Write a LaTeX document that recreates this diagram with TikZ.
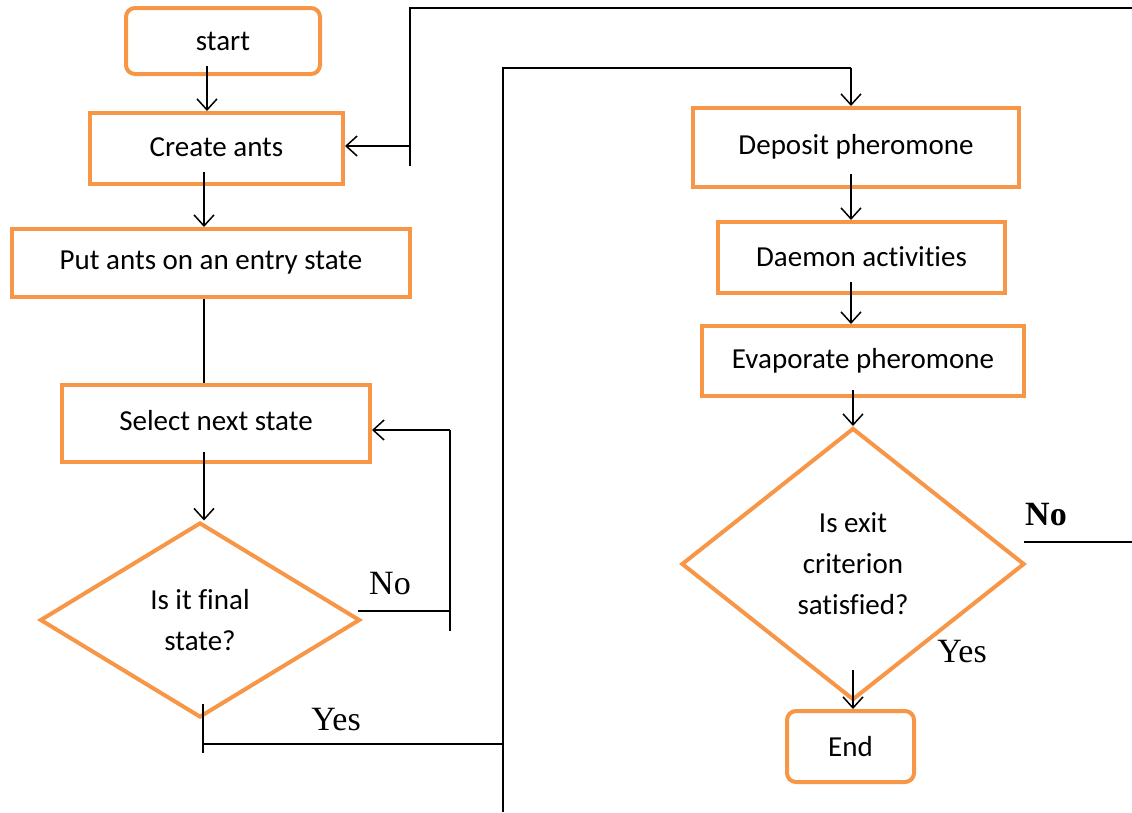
\documentclass[tikz,border=0pt]{standalone}
\usepackage{fontspec}
\setmainfont[Ligatures=NoCommon]{Carlito}
\newfontfamily\timesfont{Liberation Serif}
\usetikzlibrary{shapes.geometric,arrows.meta}
\definecolor{boxorange}{HTML}{F79646}
\begin{document}
\begin{tikzpicture}[x=1pt,y=-1pt,
  box/.style={draw=boxorange,line width=4pt,minimum width=#1,inner sep=0pt,font=\fontsize{29}{34}\selectfont},
  rbox/.style={box=#1,rounded corners=9pt},
  dec/.style={draw=boxorange,line width=4pt,diamond,inner sep=0pt,align=center,font=\fontsize{29}{41}\selectfont},
  conn/.style={line width=1.5pt,black},
  arr/.style={conn,-{Straight Barb[length=11pt,width=20pt]}},
  lab/.style={font=\timesfont\fontsize{34}{36}\selectfont,inner sep=0pt}]
\useasboundingbox (0,0) rectangle (1132,812);
% nodes
\node[rbox=194pt,minimum height=66pt] (start) at (223,41) {start};
\node[box=253pt,minimum height=71pt] (create) at (216.5,148.5) {\raisebox{2pt}{Create ants}};
\node[box=398pt,minimum height=68pt] (put) at (211,263) {Put ants on an entry state};
\node[box=308pt,minimum height=77pt] (select) at (216,423.5) {\raisebox{6pt}{Select next state}};
\node[dec,minimum width=320pt,minimum height=195pt] (d1) at (200,620) {Is it final\\state?};
\node[box=326pt,minimum height=79pt] (deposit) at (856,147.5) {\raisebox{7pt}{Deposit pheromone}};
\node[box=287pt,minimum height=71pt] (daemon) at (861.5,257.5) {\raisebox{2pt}{Daemon activities}};
\node[box=322pt,minimum height=70pt] (evap) at (863,361) {Evaporate pheromone};
\node[dec,minimum width=343pt,minimum height=272pt] (d2) at (853,564) {Is exit\\criterion\\satisfied?};
\node[rbox=127pt,minimum height=71pt] (end) at (850.5,746.5) {End};
% labels
\node[lab] (no1) at (390,584) {No};
\node[lab] (yes1) at (336,720) {Yes};
\node[lab,font=\timesfont\bfseries\fontsize{34}{36}\selectfont] (no2) at (1046,515) {No};
\node[lab] (yes2) at (962,652) {Yes};
% coordinates
\coordinate (a1) at (207,66);
\coordinate (a2) at (204,172);
\coordinate (n1) at (358,611);
\coordinate (n2) at (450,611);
\coordinate (n3) at (450,631);
\coordinate (n4) at (450,430);
\coordinate (y1) at (203,704);
\coordinate (y2) at (203,753);
\coordinate (y3) at (203,744);
\coordinate (y4) at (503,744);
\coordinate (v1) at (503,812);
\coordinate (v2) at (503,68);
\coordinate (v3) at (851,68);
\coordinate (o1) at (410,166);
\coordinate (o2) at (410,8);
\coordinate (o3) at (1132,8);
\coordinate (o4) at (410,146);
\coordinate (x1) at (1024,542);
\coordinate (x2) at (1132,542);
% connectors
\draw[arr] (a1) -- (create.north -| a1);
\draw[arr] (a2) -- (put.north -| a2);
\draw[conn] (put.south -| a2) -- (select.north -| a2);
\draw[arr] ([yshift=12pt]select.south -| a2) -- (d1.north -| a2);
\draw[conn] (n1) -- (n2);
\draw[conn] (n3) -- (n4);
\draw[arr] (n4) -- (select.east |- n4);
\draw[conn] (y1) -- (y2);
\draw[conn] (y3) -- (y4);
\draw[conn] (v1) -- (v2) -- (v3);
\draw[arr] (v3) -- (deposit.north -| v3);
\draw[arr] ([yshift=15pt]deposit.south -| v3) -- (daemon.north -| v3);
\draw[arr] ([yshift=13pt]daemon.south -| v3) -- (evap.north -| v3);
\draw[arr] ([yshift=8pt]evap.south -| d2.north) -- (d2.north);
\draw[conn] (o1) -- (o2) -- (o3);
\draw[arr] (o4) -- (create.east |- o4);
\draw[conn] (x1) -- (x2);
\draw[arr] ([yshift=32pt]d2.south) -- (end.north -| d2.south);
\end{tikzpicture}
\end{document}
